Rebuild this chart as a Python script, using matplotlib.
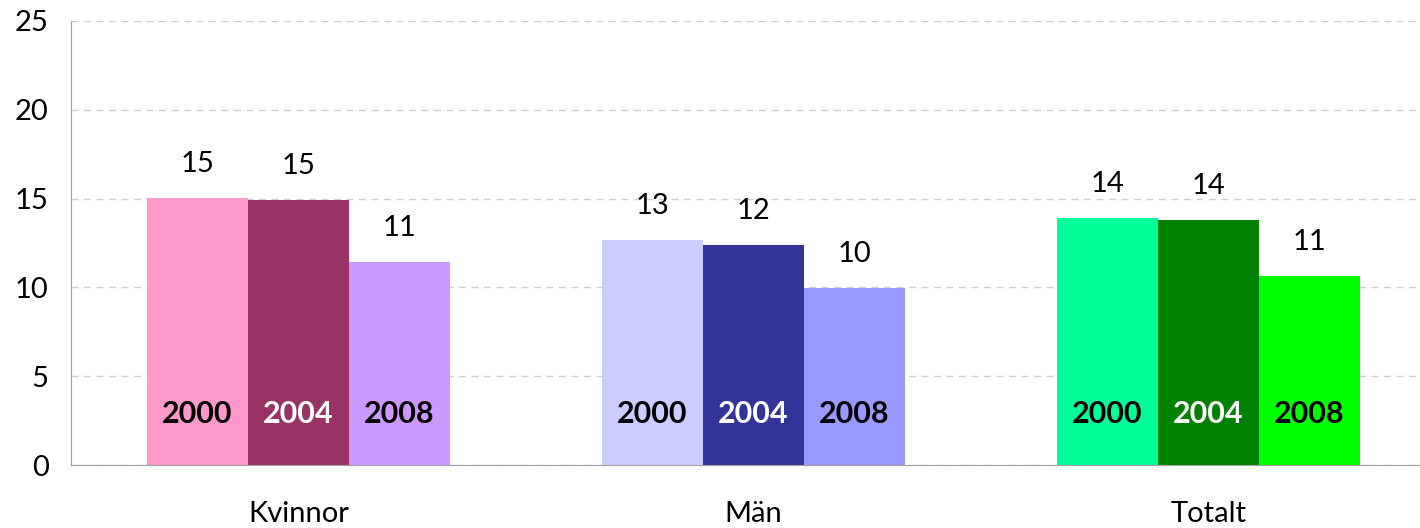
import numpy as np
import matplotlib
matplotlib.use("Agg")
import matplotlib.pyplot as plt

plt.rcParams["font.family"] = ["Lato", "DejaVu Sans"]

categories = ["Kvinnor", "Män", "Totalt"]
years = ["2000", "2004", "2008"]
v2000 = [15.03, 12.67, 13.91]
v2004 = [14.92, 12.39, 13.80]
v2008 = [11.45, 9.98, 10.64]

# colours per category (rows) and year (columns)
colors = [["#FF99CC", "#993366", "#CC99FF"],
          ["#CCCCFF", "#333399", "#9999FF"],
          ["#00FF99", "#008000", "#00FF00"]]
year_text_colors = ["black", "white", "black"]

fig = plt.figure(figsize=(14.2, 5.28), dpi=100)
ax = fig.add_axes([0.05, 0.1193, 0.9613, 0.841])

x = np.arange(len(categories))
w = 0.222
series = [v2000, v2004, v2008]

ax.set_axisbelow(True)
ax.yaxis.grid(True, linestyle=(0, (5, 4)), color="#CFCFCF", linewidth=1)

for k, vals in enumerate(series):
    pos = x + (k - 1) * w
    bars = ax.bar(pos, vals, width=w, color=[colors[i][k] for i in range(3)],
                  edgecolor="none", zorder=2)
    for p, v in zip(pos, vals):
        ax.annotate(f"{int(np.floor(v + 0.5))}", (p, v), xytext=(0, 15),
                    textcoords="offset points", ha="center", va="bottom",
                    fontsize=21)
        ax.text(p, 2.9, years[k], ha="center", va="center", fontsize=22,
                fontweight="bold", color=year_text_colors[k], zorder=3)

ax.set_xlim(-0.5, 2.5)
ax.set_ylim(0, 25)
ax.set_yticks([0, 5, 10, 15, 20, 25])
ax.set_xticks(x)
ax.set_xticklabels(categories)
ax.tick_params(axis="both", length=0, labelsize=21)
ax.tick_params(axis="x", pad=26)
ax.tick_params(axis="y", pad=16)

for s in ["top", "right"]:
    ax.spines[s].set_visible(False)
ax.spines["left"].set_color("#A0A0A0")
ax.spines["bottom"].set_color("#A0A0A0")

fig.savefig("out.png", dpi=100)
